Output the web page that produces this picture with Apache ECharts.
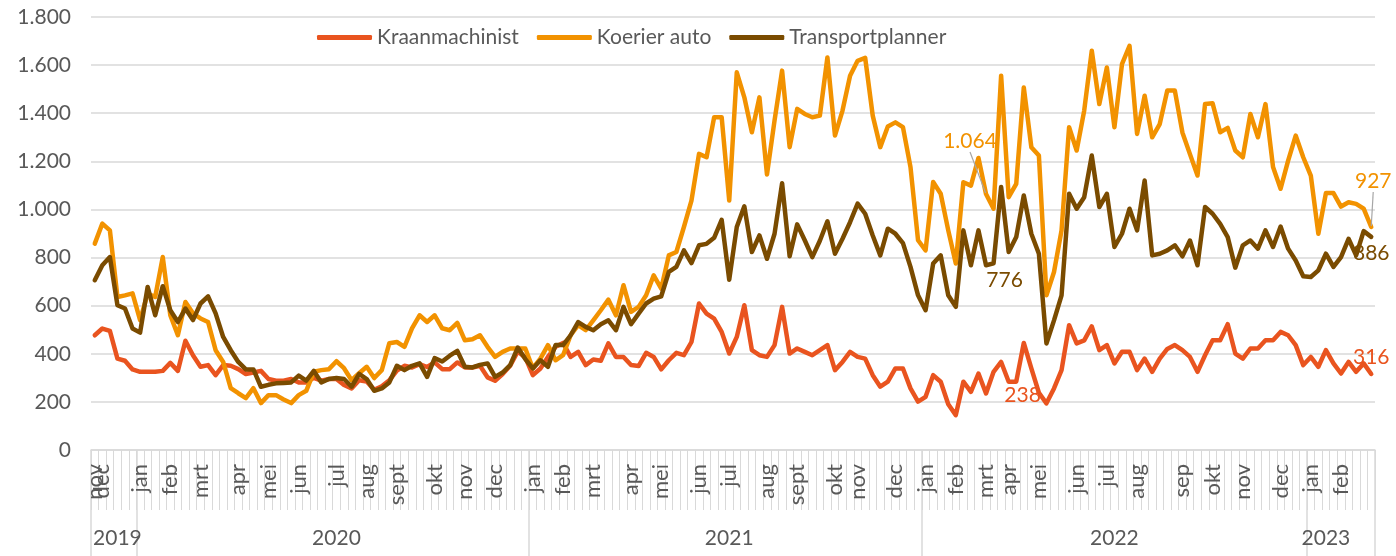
<!DOCTYPE html>
<html>
<head>
<meta charset="utf-8">
<script src="https://cdn.jsdelivr.net/npm/echarts@6.0.0/dist/echarts.min.js"></script>
<style>
  html, body { margin: 0; padding: 0; background: #ffffff; }
  #vacatures { width: 1396px; height: 556px; }
</style>
</head>
<body>
<div id="vacatures"></div>
<script>
// weekly data, nov 2019 - feb 2023
var seriesNames = ['Kraanmachinist', 'Koerier auto', 'Transportplanner'];
var seriesColors = ['#E9541F', '#F29200', '#7A4B00'];

var kraanmachinist = [
  477, 505, 495, 380, 371, 335, 325, 325, 325, 329,
  362, 329, 454, 394, 346, 353, 311, 353, 350, 336,
  316, 322, 329, 295, 288, 288, 295, 281, 281, 300,
  288, 295, 295, 270, 256, 290, 285, 250, 265, 290,
  330, 350, 343, 357, 345, 364, 336, 336, 364, 343,
  343, 350, 302, 288, 316, 350, 410, 385, 311, 339,
  387, 429, 445, 387, 408, 353, 376, 371, 443, 387,
  387, 353, 349, 404, 387, 335, 373, 404, 394, 449,
  609, 567, 546, 491, 401, 470, 602, 415, 394, 387,
  436, 595, 401, 422, 408, 394, 415, 436, 332, 366,
  408, 387, 380, 311, 263, 284, 339, 339, 256, 201,
  221, 311, 284, 190, 145, 284, 242, 318, 235, 325,
  366, 284, 284, 445, 339, 238, 194, 256, 332, 519,
  443, 456, 514, 415, 436, 360, 408, 408, 332, 380,
  325, 380, 420, 436, 415, 387, 325, 394, 456, 456,
  523, 401, 380, 422, 422, 456, 456, 491, 477, 436,
  353, 387, 346, 415, 360, 318, 366, 325, 360, 316
];

var koerierAuto = [
  858, 941, 913, 636, 643, 651, 540, 650, 636, 802,
  560, 477, 615, 568, 547, 532, 415, 366, 257, 236,
  216, 257, 195, 228, 228, 210, 195, 228, 246, 325,
  332, 336, 369, 340, 290, 319, 346, 299, 332, 444,
  449, 429, 506, 560, 532, 560, 506, 498, 528, 456,
  460, 477, 429, 387, 408, 422, 422, 422, 340, 380,
  436, 373, 394, 477, 519, 498, 539, 581, 625, 560,
  685, 574, 595, 643, 726, 671, 809, 823, 927, 1037,
  1231, 1217, 1383, 1383, 1037, 1570, 1466, 1321, 1466, 1145,
  1370, 1577, 1259, 1418, 1397, 1383, 1390, 1632, 1307, 1411,
  1556, 1618, 1630, 1390, 1259, 1345, 1362, 1342, 1176, 872,
  830, 1114, 1065, 913, 775, 1113, 1099, 1214, 1064, 1003,
  1556, 1051, 1106, 1507, 1259, 1224, 643, 740, 913, 1342,
  1245, 1411, 1660, 1438, 1590, 1342, 1604, 1680, 1314, 1473,
  1300, 1355, 1494, 1494, 1320, 1230, 1141, 1438, 1441, 1321,
  1339, 1245, 1217, 1397, 1300, 1438, 1176, 1086, 1203, 1307,
  1217, 1141, 899, 1068, 1068, 1012, 1030, 1023, 1003, 927
];

var transportplanner = [
  706, 768, 802, 602, 588, 505, 488, 678, 560, 681,
  581, 532, 588, 540, 609, 639, 568, 470, 415, 366,
  335, 335, 263, 271, 277, 279, 281, 309, 288, 329,
  281, 295, 299, 295, 263, 316, 295, 246, 256, 281,
  350, 332, 350, 360, 304, 382, 368, 392, 412, 346,
  343, 354, 360, 304, 322, 353, 426, 378, 339, 373,
  346, 436, 436, 477, 532, 512, 498, 523, 539, 498,
  595, 523, 567, 609, 629, 639, 740, 761, 830, 777,
  851, 857, 882, 957, 708, 927, 1013, 823, 892, 795,
  899, 1109, 805, 938, 872, 802, 870, 951, 816, 878,
  947, 1024, 982, 892, 809, 920, 899, 860, 761, 643,
  581, 775, 809, 643, 595, 913, 768, 913, 768, 776,
  1093, 823, 885, 1058, 899, 816, 443, 539, 643, 1065,
  1003, 1051, 1224, 1010, 1065, 844, 899, 1003, 913, 1120,
  809, 816, 830, 851, 805, 871, 768, 1010, 982, 940,
  885, 758, 851, 871, 837, 913, 844, 929, 837, 788,
  722, 719, 747, 816, 761, 802, 878, 809, 910, 886
];

// first week of each month label [week index, label]
var monthTicks = [
  [0, 'nov'], [1, 'dec'],
  [6, 'jan'], [10, 'feb'], [14, 'mrt'], [19, 'apr'], [23, 'mei'], [27, 'jun'],
  [32, 'jul'], [36, 'aug'], [40, 'sept'], [45, 'okt'], [49, 'nov'], [53, 'dec'],
  [58, 'jan'], [62, 'feb'], [66, 'mrt'], [71, 'apr'], [75, 'mei'], [80, 'jun'],
  [84, 'jul'], [89, 'aug'], [93, 'sept'], [98, 'okt'], [101, 'nov'], [106, 'dec'],
  [110, 'jan'], [114, 'feb'], [118, 'mrt'], [121, 'apr'], [125, 'mei'], [130, 'jun'],
  [134, 'jul'], [138, 'aug'], [144, 'sep'], [148, 'okt'], [152, 'nov'], [157, 'dec'],
  [161, 'jan'], [165, 'feb']
];
var years = ['2019', '2020', '2021', '2022', '2023'];
var yearStart = [0, 6, 58, 110, 161];
var yearLabelAt = [3, 32, 84, 135, 163];

// labelled points [series, week index, position]
var pointLabels = [
  [1, 118, 'top'], [1, 169, 'top'],
  [2, 119, 'bottom'], [2, 169, 'bottom'],
  [0, 125, 'left'], [0, 169, 'top']
];

function nlNumber(v) {
  return String(v).replace(/\B(?=(\d{3})+(?!\d))/g, '.');
}

var weeks = [];
var monthOf = {};
var yearOf = {};
for (var i = 0; i < kraanmachinist.length; i++) weeks.push(String(i));
monthTicks.forEach(function (m) { monthOf[m[0]] = m[1]; });
yearLabelAt.forEach(function (idx, k) { yearOf[idx] = years[k]; });

function buildData(values, s) {
  return values.map(function (v, idx) {
    var lab = pointLabels.filter(function (p) { return p[0] === s && p[1] === idx; })[0];
    if (!lab) return v;
    var item = {
      value: v,
      symbol: 'circle',
      symbolSize: 2,
      label: {
        show: true,
        position: lab[2],
        color: seriesColors[s],
        fontSize: 21,
        fontFamily: 'Lato',
        formatter: function (p) { return nlNumber(p.value); }
      }
    };
    if (s === 2 && idx === 119) item.label.offset = [11, 0];
    if (s === 0 && idx === 125) item.label.offset = [8, 2];
    return item;
  });
}

var allValues = [kraanmachinist, koerierAuto, transportplanner];
var textColor = '#595959';
var gridColor = '#d9d9d9';

var myChart = echarts.init(document.getElementById('vacatures'));
var option = {
  animation: false,
  textStyle: { fontFamily: 'Lato' },
  color: seriesColors,
  legend: {
    top: 22,
    left: 312,
    itemWidth: 55,
    itemHeight: 5,
    itemGap: 18,
    icon: 'roundRect',
    textStyle: { color: textColor, fontSize: 21, fontFamily: 'Lato' },
    data: seriesNames
  },
  grid: { left: 91, right: 21, top: 17, bottom: 106 },
  xAxis: [
    {
      type: 'category',
      data: weeks,
      boundaryGap: true,
      axisLine: { show: true, lineStyle: { color: gridColor, width: 1.5 } },
      axisTick: { show: true, interval: 0, length: 60, lineStyle: { color: gridColor, width: 1 } },
      axisLabel: {
        interval: 0,
        rotate: 90,
        margin: 14,
        color: textColor,
        fontSize: 22,
        formatter: function (v, idx) { return monthOf[idx] || ''; }
      }
    },
    {
      type: 'category',
      data: weeks,
      position: 'bottom',
      boundaryGap: true,
      axisLine: { show: false },
      axisTick: {
        show: true,
        interval: function (idx) { return yearStart.indexOf(idx) >= 0; },
        length: 110,
        lineStyle: { color: gridColor, width: 1.5 }
      },
      axisLabel: {
        interval: 0,
        margin: 78,
        color: textColor,
        fontSize: 21,
        formatter: function (v, idx) { return yearOf[idx] || ''; }
      }
    }
  ],
  yAxis: {
    type: 'value',
    min: 0,
    max: 1800,
    interval: 200,
    axisLine: { show: false },
    axisTick: { show: false },
    splitLine: { show: true, lineStyle: { color: gridColor, width: 1.5 } },
    axisLabel: {
      margin: 20,
      color: textColor,
      fontSize: 21,
      formatter: function (v) { return nlNumber(v); }
    }
  },
  series: seriesNames.map(function (name, s) {
    return {
      name: name,
      type: 'line',
      xAxisIndex: 0,
      data: buildData(allValues[s], s),
      symbol: 'none',
      showSymbol: true,
      showAllSymbol: true,
      lineStyle: { width: 4.5, color: seriesColors[s], cap: 'round', join: 'round' },
      itemStyle: { color: seriesColors[s] },
      labelLine: s === 1 ? { show: true, lineStyle: { color: '#a6a6a6', width: 1.2 } } : { show: false },
      labelLayout: s === 1 ? function (p) {
        if (p.dataIndex === 118) return { dx: -16, dy: -36 };
        if (p.dataIndex === 169) return { dx: 2, dy: -29 };
        return {};
      } : null
    };
  })
};
myChart.setOption(option);
</script>
</body>
</html>
